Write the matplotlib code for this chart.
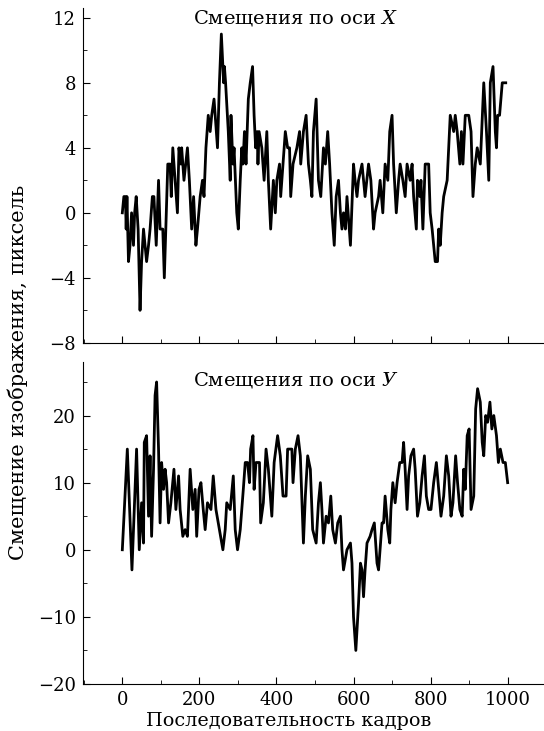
import matplotlib
matplotlib.use("Agg")
import matplotlib.pyplot as plt
from matplotlib.ticker import MultipleLocator

plt.rcParams['font.family'] = ['DejaVu Serif']
plt.rcParams['mathtext.fontset'] = 'dejavuserif'

# смещения по оси X (кадр, пиксели)
kadry_x = [0, 4, 8, 10, 12, 16, 20, 24, 29, 32, 36, 41, 46, 50, 55, 63, 68, 72, 78, 82,
           88, 94, 98, 105, 109, 118, 124, 127, 131, 137, 143, 147, 152, 154, 160, 169, 174,
           180, 185, 191, 195, 202, 208, 212, 217, 223, 228, 232, 238, 247, 252, 257, 263,
           265, 268, 275, 280, 282, 287, 290, 297, 301, 306, 310, 313, 317, 321, 327, 332,
           338, 342, 346, 350, 352, 355, 362, 368, 375, 379, 385, 392, 397, 401, 408, 411,
           423, 429, 434, 437, 443, 453, 460, 463, 470, 477,
           483, 488, 492, 496, 503, 509, 515, 522, 527, 533, 538, 544, 550, 555, 561, 566,
           570, 574, 579, 583, 592, 600, 604, 609, 613, 622, 630, 639, 645, 652, 656, 665,
           669, 676, 682, 689, 694, 700, 704, 711, 717, 721, 728, 734, 739, 747, 752, 756,
           763, 766, 772, 775, 780, 786, 795, 799, 804, 808, 812, 818, 821, 825, 830, 834,
           843, 851, 860, 864, 869, 876, 880, 884, 890, 899, 905, 910, 916, 921, 929, 938,
           945, 951, 955, 962, 968, 971, 974, 979, 986, 995]
sdvig_x = [0, 1, 1, -1, 1, -3, -2, 0, -2, 0, 1, -1, -6, -3, -1, -3, -2, -1, 1, 1,
           -2, 2, -1, -1, -4, 3, 3, 1, 4, 2, 0, 4, 3, 4, 2, 4, 2,
           -1, 1, -2, -1, 1, 2, 1, 4, 6, 5, 6, 7, 4, 8, 11, 8,
           9, 8, 5, 2, 6, 3, 4, 0, -1, 2, 4, 3, 5, 3, 7, 8,
           9, 6, 4, 5, 3, 5, 4, 2, 5, 2, -1, 2, 0, 2, 3, 1,
           5, 4, 4, 1, 3, 4, 5, 3, 5, 6,
           3, 2, 1, 5, 7, 2, 1, 4, 3, 5, 3, 0, -2, 1, 2, 0,
           -1, 0, -1, 1, -2, 3, 2, 1, 2, 3, 1, 3, 2, -1, 0, 1,
           2, 0, 3, 2, 5, 6, 3, 0, 2, 3, 2, 1, 3, 2, 3, 1,
           -1, 2, 1, 2, -1, 3, 3, 0, -1, -2, -3, -3, -1, -2, 0, 1,
           2, 6, 5, 6, 5, 3, 5, 3, 6, 6, 5, 1, 3, 4, 3, 8,
           5, 2, 8, 9, 5, 4, 6, 6, 8, 8]

# смещения по оси Y
kadry_y = [0, 13, 25, 37, 44, 50, 55, 57, 63, 68, 72, 76, 81, 85, 89, 94, 98, 102, 107,
           111, 115, 120, 126, 134, 139, 146, 150, 157, 163, 169, 176, 183, 189, 193, 199,
           204, 210, 215, 221, 230, 236, 243, 252, 261, 267, 271, 280, 288, 293, 299, 306,
           314, 319, 325, 330, 333, 339, 342, 347, 356, 359, 366, 373, 379, 388, 394, 403,
           410, 417, 425, 429, 440, 443, 449, 456, 462, 470, 475, 481, 488, 494, 503, 509,
           514, 518, 522, 529, 535, 541, 546, 553, 559, 566, 570, 574, 583, 592, 596, 600,
           606, 613, 618, 622, 626, 630, 635, 643, 648, 654, 661, 665, 674, 678, 682, 689,
           694, 697, 702, 708, 713, 720, 726, 730, 734, 739, 743, 749, 756, 760, 766, 772,
           778, 784, 789, 795, 801, 808, 815, 821, 827, 834, 841, 847, 853, 858, 865, 870,
           876, 882, 886, 890, 895, 900, 905, 912, 917, 922, 929, 934, 938, 943, 948, 954,
           959, 964, 971, 976, 981, 988, 994, 1000]
sdvig_y = [0, 15, -3, 15, 0, 7, 1, 16, 17, 5, 14, 2, 12, 23, 25, 15, 4, 13, 9,
           12, 10, 4, 7, 12, 6, 11, 6, 2, 3, 2, 12, 6, 9, 2, 9,
           10, 6, 3, 7, 6, 11, 6, 3, 0, 3, 7, 6, 11, 3, 0, 3,
           9, 13, 13, 10, 15, 17, 9, 13, 13, 4, 7, 15, 12, 5, 13, 17,
           14, 8, 8, 15, 15, 10, 15, 17, 14, 1, 8, 14, 12, 3, 1, 7,
           10, 6, 1, 5, 4, 8, 3, 1, 4, 5, 0, -3, 0, 1, -2, -10,
           -15, -8, -2, -3, -7, -3, 1, 2, 3, 4, -2, -3, 4, 4, 8, 3,
           1, 6, 10, 7, 10, 13, 13, 16, 12, 6, 11, 14, 15, 12, 5, 7,
           11, 14, 8, 6, 6, 10, 13, 9, 5, 8, 14, 11, 5, 7, 14, 10,
           6, 5, 12, 9, 17, 18, 6, 8, 21, 24, 22, 16, 14, 20, 19, 22,
           18, 20, 17, 13, 15, 13, 13, 10]

fig = plt.figure(figsize=(5.44, 7.31), dpi=100)
ax1 = fig.add_axes([0.1526, 0.531, 0.85, 0.458])
ax2 = fig.add_axes([0.1526, 0.0643, 0.85, 0.4407])

ax1.plot(kadry_x, sdvig_x, color='black', lw=2.0)
ax2.plot(kadry_y, sdvig_y, color='black', lw=2.0)

ax1.set_ylim(-8, 12.6)
ax2.set_ylim(-20, 28)
ax1.yaxis.set_major_locator(MultipleLocator(4))
ax1.yaxis.set_minor_locator(MultipleLocator(2))
ax2.yaxis.set_major_locator(MultipleLocator(10))
ax2.yaxis.set_minor_locator(MultipleLocator(5))

for ax in (ax1, ax2):
    ax.set_xlim(-102, 1098)
    ax.xaxis.set_major_locator(MultipleLocator(200))
    ax.xaxis.set_minor_locator(MultipleLocator(100))
    ax.spines['top'].set_visible(False)
    ax.spines['right'].set_visible(False)
    ax.tick_params(which='both', direction='in', labelsize=13, pad=5)
    ax.tick_params(which='major', length=5)
    ax.tick_params(which='minor', length=3)

ax1.tick_params(labelbottom=False)

ax1.text(0.46, 0.97, 'Смещения по оси $X$', transform=ax1.transAxes,
         ha='center', va='center', fontsize=14)
ax2.text(0.46, 0.944, 'Смещения по оси $\\mathit{У}$', transform=ax2.transAxes,
         ha='center', va='center', fontsize=14)

fig.text(0.033, 0.49, 'Смещение изображения, пиксель', rotation=90,
         ha='center', va='center', fontsize=15)
fig.text(0.53, 0.013, 'Последовательность кадров', ha='center', va='center', fontsize=13.8)

fig.savefig('out.png', dpi=100)
